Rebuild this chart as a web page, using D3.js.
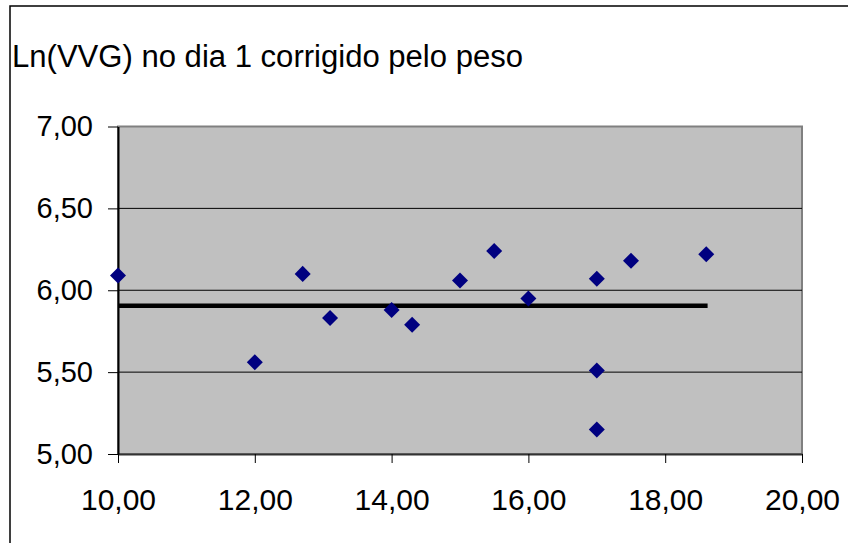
<!DOCTYPE html>
<html>
<head>
<meta charset="utf-8">
<script src="https://cdn.jsdelivr.net/npm/d3@7"></script>
<style>
  body { margin: 0; background: #fff; }
  svg { display: block; font-family: Arial, "Liberation Sans", sans-serif; }
</style>
</head>
<body>
<svg id="chart" width="848" height="543"></svg>
<script>
// dados
const titulo = "Ln(VVG) no dia 1 corrigido pelo peso";
const pesoX = [10.0, 12.0, 12.7, 13.1, 14.0, 14.3, 15.0, 15.5, 16.0, 17.0, 17.0, 17.0, 17.5, 18.6];
const lnVVG = [6.09, 5.56, 6.10, 5.83, 5.88, 5.79, 6.06, 6.24, 5.95, 6.07, 5.51, 5.15, 6.18, 6.22];
const mediaX = [10.0, 18.62];
const mediaY = [5.905, 5.905];
const ticksX = [10, 12, 14, 16, 18, 20];
const ticksY = [5.0, 5.5, 6.0, 6.5, 7.0];

const fmt = v => d3.format(".2f")(v).replace(".", ",");

function drawChart() {
    const svg = d3.select("#chart");
    const area = { left: 118, right: 802, top: 126.5, bottom: 454 };

    // moldura do grafico (so esquerda e topo visiveis)
    svg.append("rect")
        .attr("x", 10).attr("y", 6)
        .attr("width", 900).attr("height", 600)
        .attr("fill", "#fff")
        .attr("stroke", "#000")
        .attr("stroke-width", 1.5);

    svg.append("text")
        .attr("x", 12).attr("y", 67)
        .attr("font-size", 31)
        .attr("textLength", 511)
        .attr("lengthAdjust", "spacingAndGlyphs")
        .text(titulo);

    const scX = d3.scaleLinear().domain([10, 20]).range([area.left, area.right]);
    const scY = d3.scaleLinear().domain([5, 7]).range([area.bottom, area.top]);

    // fundo cinza
    svg.append("rect")
        .attr("x", area.left).attr("y", area.top)
        .attr("width", area.right - area.left)
        .attr("height", area.bottom - area.top)
        .attr("fill", "#c0c0c0")
        .attr("stroke", "#808080")
        .attr("stroke-width", 2);

    // linhas de grade
    svg.append("g")
        .selectAll("line")
        .data(ticksY.filter(d => d > 5 && d < 7))
        .enter()
        .append("line")
        .attr("x1", area.left).attr("x2", area.right)
        .attr("y1", d => scY(d)).attr("y2", d => scY(d))
        .attr("stroke", "#000")
        .attr("stroke-width", 1);

    // eixos
    const axisX = d3.axisBottom(scX).tickValues(ticksX).tickFormat(fmt).tickSize(9).tickSizeOuter(0);
    const axisY = d3.axisLeft(scY).tickValues(ticksY).tickFormat(fmt).tickSize(10).tickSizeOuter(0);

    const gx = svg.append("g")
        .attr("transform", `translate(0, ${area.bottom})`)
        .call(axisX);
    gx.select(".domain").attr("stroke", "#333").attr("stroke-width", 2);
    gx.selectAll(".tick line").attr("stroke", "#000");
    gx.selectAll("text")
        .attr("font-size", 30)
        .attr("font-family", "Arial, 'Liberation Sans', sans-serif")
        .attr("fill", "#000")
        .attr("y", 35).attr("dy", "0.71em");

    const gy = svg.append("g")
        .attr("transform", `translate(${area.left}, 0)`)
        .call(axisY);
    gy.select(".domain").attr("stroke", "#000").attr("stroke-width", 2);
    gy.selectAll(".tick line").attr("stroke", "#000");
    gy.selectAll("text")
        .attr("font-size", 29)
        .attr("font-family", "Arial, 'Liberation Sans', sans-serif")
        .attr("fill", "#000")
        .attr("x", -25);

    // linha da media
    const linha = d3.line().x(d => scX(d[0])).y(d => scY(d[1]));
    svg.append("path")
        .datum(d3.zip(mediaX, mediaY))
        .attr("d", linha)
        .attr("fill", "none")
        .attr("stroke", "#000")
        .attr("stroke-width", 4.5);

    // pontos (losangos)
    const losango = d3.symbol().type(d3.symbolSquare).size(128);
    svg.append("g")
        .selectAll("path")
        .data(d3.zip(pesoX, lnVVG))
        .enter()
        .append("path")
        .attr("d", losango)
        .attr("transform", d => `translate(${scX(d[0])}, ${scY(d[1])}) rotate(45)`)
        .attr("fill", "#000080");
}

drawChart();
</script>
</body>
</html>
